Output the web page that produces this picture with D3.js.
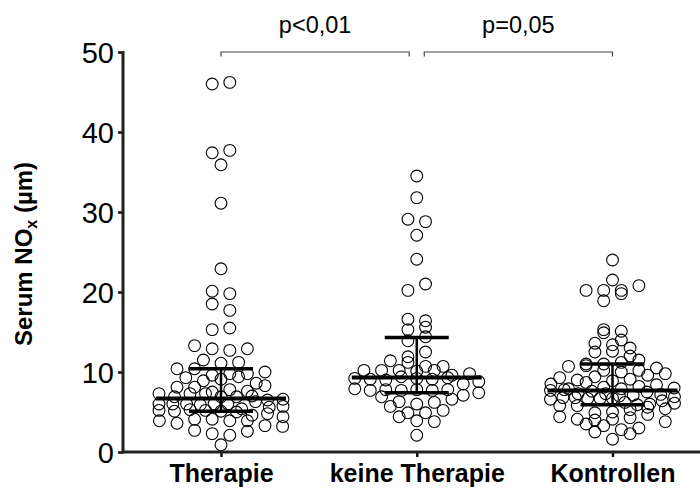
<!DOCTYPE html>
<html>
<head>
<meta charset="utf-8">
<script src="https://cdn.jsdelivr.net/npm/d3@7"></script>
<style>
  body { margin: 0; background: #fff; }
  svg { display: block; font-family: Arial, "Liberation Sans", Helvetica, sans-serif; }
</style>
</head>
<body>
<svg id="chart" width="700" height="488"></svg>
<script>
// Groups and values (Serum NOx, µm)
const categories = ['Therapie', 'keine Therapie', 'Kontrollen'];

const therapie = [46.0, 46.2, 37.4, 37.7, 35.9, 31.1, 22.9, 20.1, 19.8, 18.5, 17.7, 15.3, 15.5,
    13.3, 12.9, 12.7, 12.9, 11.5, 11.1, 11.2, 10.4, 10.4, 9.3, 8.9, 9.6, 9.8, 9.8, 9.1, 9.4,
    8.1, 8.6, 8.1, 7.5, 7.8, 7.3, 6.9, 7.3, 7.3, 6.9, 6.9, 6.0, 6.0, 6.0, 5.9, 6.0, 6.0,
    5.2, 5.1, 5.3, 5.2, 5.4, 5.1, 5.0, 3.9, 3.6, 4.1, 4.1, 3.9, 3.9, 3.3, 3.2, 2.7, 2.3,
    2.1, 2.6, 0.9, 7.0, 6.5, 6.3, 5.6, 5.7, 7.6, 4.6, 4.8, 8.3, 6.6, 10.0, 4.4];

const keineTherapie = [34.5, 31.8, 29.1, 28.8, 27.1, 24.1, 20.2, 21.0, 16.6, 16.4, 15.3, 15.6,
    13.9, 14.4, 11.4, 11.2, 11.9, 10.2, 10.2, 10.7, 10.2, 10.1, 10.2, 10.7, 9.2, 9.1, 9.6,
    9.0, 9.4, 9.2, 9.1, 9.3, 7.9, 7.7, 7.8, 7.7, 7.8, 7.7, 7.8, 7.1, 6.9, 6.3, 6.0, 5.7,
    6.2, 4.9, 4.9, 4.4, 3.9, 3.8, 2.1, 8.5, 8.8, 12.5, 9.8, 6.6, 5.2, 7.4];

const kontrollen = [24.0, 21.5, 20.2, 20.2, 18.9, 19.8, 20.2, 20.8, 15.3, 14.9, 15.1, 13.6,
    13.4, 14.0, 12.5, 13.0, 12.6, 11.0, 10.7, 11.0, 11.2, 10.8, 9.3, 10.2, 9.0, 10.0, 10.2,
    9.4, 8.5, 7.7, 7.8, 7.9, 8.9, 8.7, 9.1, 8.1, 7.9, 7.3, 5.8, 6.6, 6.8, 5.8, 6.8, 7.6,
    6.7, 7.3, 6.7, 7.0, 6.7, 6.2, 5.9, 4.9, 4.4, 4.1, 5.0, 4.0, 5.3, 4.1, 4.3, 3.5, 3.3,
    2.5, 1.6, 2.3, 2.8, 5.6, 6.0, 6.4, 7.1, 7.5, 8.2, 8.4, 9.6, 9.8, 5.4, 4.7, 6.1, 7.2,
    8.0, 6.9, 10.5, 3.0, 3.8, 11.5, 12.0];

// median and interquartile range drawn as bars
const medians = [6.7, 9.3, 7.7];
const q1 = [5.1, 7.4, 5.9];
const q3 = [10.4, 14.3, 11.0];

const yTicks = [0, 10, 20, 30, 40, 50];

const comparisons = [
    { from: 'Therapie', to: 'keine Therapie', label: 'p<0,01' },
    { from: 'keine Therapie', to: 'Kontrollen', label: 'p=0,05' }
];

const groups = [therapie, keineTherapie, kontrollen];

const svg = d3.select('#chart');
const W = 700;
const margin = { left: 123, top: 52, bottom: 36 };
const H = 488;

const x = d3.scalePoint().domain(categories).range([221, 612.5]);
const y = d3.scaleLinear().domain([0, 50]).range([H - margin.bottom, margin.top]);

const r = 5.9;

// prism-like column scatter: values that lie close together form one row,
// each row is spread out sideways around the group centre
function scatterRows(values, cx) {
    const rowH = 1.0, gap = 17.6, maxW = 124;
    const order = values.map((v, i) => ({ v, i })).sort((a, b) => a.v - b.v);
    const rows = [];
    order.forEach(d => {
        const last = rows[rows.length - 1];
        if (last && d.v - last.start < rowH) last.items.push(d);
        else rows.push({ start: d.v, items: [d] });
    });
    const pts = [];
    rows.forEach(row => {
        const items = row.items.sort((a, b) => a.i - b.i);
        const n = items.length;
        const s = n > 1 ? Math.min(gap, maxW / (n - 1)) : 0;
        items.forEach((d, j) => {
            pts.push({ x: cx + (j - (n - 1) / 2) * s, y: y(d.v), v: d.v });
        });
    });
    return pts;
}

// Y axis
const yAxis = svg.append('g')
    .attr('transform', `translate(${margin.left},0)`)
    .call(d3.axisLeft(y).tickValues(yTicks).tickSize(5).tickPadding(4).tickSizeOuter(0));
yAxis.select('.domain').remove();
yAxis.selectAll('.tick line').attr('stroke', '#111').attr('stroke-width', 2.5);
yAxis.selectAll('.tick text')
    .attr('font-size', 29).attr('fill', '#000').attr('dy', '0.36em');

svg.append('line')
    .attr('x1', margin.left).attr('x2', margin.left)
    .attr('y1', y(50) - 1).attr('y2', y(0) + 1.5)
    .attr('stroke', '#222').attr('stroke-width', 3);

// X axis
const xAxis = svg.append('g')
    .attr('transform', `translate(0,${y(0)})`)
    .call(d3.axisBottom(x).tickSize(5).tickPadding(7).tickSizeOuter(0));
xAxis.select('.domain').remove();
xAxis.selectAll('.tick line').attr('stroke', '#111').attr('stroke-width', 2.5);
xAxis.selectAll('.tick text')
    .attr('font-size', 25).attr('font-weight', 'bold').attr('fill', '#000');

svg.append('line')
    .attr('x1', margin.left - 1.5).attr('x2', W)
    .attr('y1', y(0)).attr('y2', y(0))
    .attr('stroke', '#222').attr('stroke-width', 3);

// Y label
const yLabel = svg.append('text')
    .attr('transform', `translate(32,${(y(0) + y(50)) / 2 + 2}) rotate(-90)`)
    .attr('text-anchor', 'middle')
    .attr('font-size', 24).attr('font-weight', 'bold');
yLabel.append('tspan').text('Serum NO');
yLabel.append('tspan').attr('font-size', 16).attr('dy', 5).text('x');
yLabel.append('tspan').attr('dy', -5).text(' (µm)');

// points
groups.forEach((vals, i) => {
    const pts = scatterRows(vals, x(categories[i]));
    svg.append('g').selectAll('circle')
        .data(pts)
        .join('circle')
        .attr('cx', d => d.x)
        .attr('cy', d => d.y)
        .attr('r', r)
        .attr('fill', 'none')
        .attr('stroke', '#000')
        .attr('stroke-width', 1.1);
});

// median + IQR
const bars = svg.append('g').attr('stroke', '#000');
categories.forEach((c, i) => {
    const cx = x(c);
    bars.append('line')
        .attr('x1', cx - 65).attr('x2', cx + 65)
        .attr('y1', y(medians[i])).attr('y2', y(medians[i]))
        .attr('stroke-width', 4);
    [q1[i], q3[i]].forEach(q => {
        bars.append('line')
            .attr('x1', cx - 32).attr('x2', cx + 32)
            .attr('y1', y(q)).attr('y2', y(q))
            .attr('stroke-width', 3.5);
    });
    bars.append('line')
        .attr('x1', cx).attr('x2', cx)
        .attr('y1', y(q1[i])).attr('y2', y(q3[i]))
        .attr('stroke-width', 2.5);
});

// significance brackets
const by = y(50);
comparisons.forEach((cmp, i) => {
    const gap = 7.5;
    const x1 = x(cmp.from) + (i === 0 ? 0 : gap);
    const x2 = x(cmp.to) - (i === 0 ? gap : 0);
    svg.append('path')
        .attr('d', `M${x1},${by + 4.5}V${by}H${x2}V${by + 4.5}`)
        .attr('fill', 'none')
        .attr('stroke', '#444')
        .attr('stroke-width', 1.2);
    svg.append('text')
        .attr('x', (x1 + x2) / 2)
        .attr('y', 33)
        .attr('text-anchor', 'middle')
        .attr('font-size', 23.5)
        .text(cmp.label);
});
</script>
</body>
</html>
